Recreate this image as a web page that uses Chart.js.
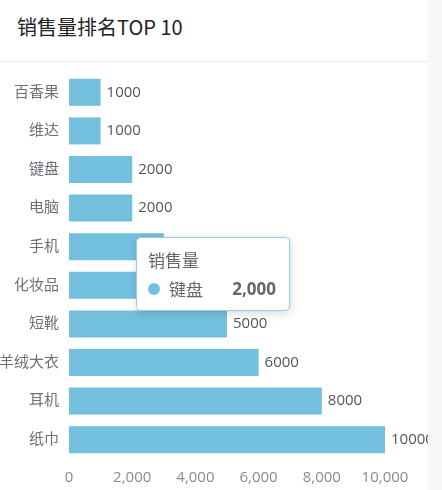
<!DOCTYPE html>
<html>
<head>
<meta charset="utf-8">
<script src="https://cdn.jsdelivr.net/npm/chart.js@4.4.1/dist/chart.umd.min.js"></script>
<style>
  body { margin: 0; background: #f6f7f9; font-family: "Open Sans", "Noto Sans CJK SC", sans-serif; }
  .card { position: absolute; left: 0; top: 0; width: 428px; height: 490px; background: #fff; overflow: hidden; }
  .card h3 { margin: 0; height: 61px; line-height: 54px; padding-left: 17px; font-size: 20px; font-weight: normal; color: #222;
             border-bottom: 1px solid #eeeeee; font-family: "Noto Sans CJK SC", sans-serif; }
  .box { position: absolute; left: 0; top: 62px; width: 428px; height: 428px; }
  #tip { position: absolute; pointer-events: none; background: #fff; border: 1px solid #94cde4; border-radius: 5px; box-sizing: border-box;
         box-shadow: 1px 2px 10px rgba(0,0,0,0.16); padding: 10px 13px 10px 11px; width: 154px; height: 74px; color: #666;
         font-size: 17px; display: none; }
  #tip .t { line-height: 24px; font-family: "Noto Sans CJK SC", sans-serif; }
  #tip .r { line-height: 26px; margin-top: 4px; display: flex; align-items: center; }
  #tip .dot { width: 12px; height: 12px; border-radius: 6px; margin-right: 9px; }
  #tip .n { font-family: "Noto Sans CJK SC", sans-serif; }
  #tip .v { margin-left: auto; font-weight: bold; font-family: "Open Sans", sans-serif; }
</style>
</head>
<body>
<div class="card">
  <h3>销售量排名TOP 10</h3>
  <div class="box">
    <canvas id="myChart"></canvas>
    <div id="tip"></div>
  </div>
</div>
<script>
// 数据
var categories = ['百香果', '维达', '键盘', '电脑', '手机', '化妆品', '短靴', '羊绒大衣', '耳机', '纸巾'];
var salesValues = [1000, 1000, 2000, 2000, 3000, 4000, 5000, 6000, 8000, 10000];
var xTicks = [0, 2000, 4000, 6000, 8000, 10000];
var seriesName = '销售量';
var barColor = '#73c0de';
var fontFamily = '"Open Sans", "Noto Sans CJK SC", sans-serif';

// 柱子末端的数值
var valueLabels = {
  id: 'valueLabels',
  afterDatasetsDraw: function (chart) {
    var ctx = chart.ctx;
    ctx.save();
    ctx.font = '15px ' + fontFamily;
    ctx.fillStyle = '#555';
    ctx.textBaseline = 'middle';
    chart.getDatasetMeta(0).data.forEach(function (bar, i) {
      ctx.fillText(String(salesValues[i]), bar.x + 6, bar.y);
    });
    ctx.restore();
  }
};

function externalTip(context) {
  var tip = document.getElementById('tip');
  var model = context.tooltip;
  if (model.opacity === 0) { tip.style.display = 'none'; return; }
  var p = model.dataPoints[0];
  tip.innerHTML = '<div class="t">' + seriesName + '</div>' +
    '<div class="r"><span class="dot" style="background:' + barColor + '"></span><span class="n">' + p.label +
    '</span><span class="v">' + p.raw.toLocaleString('en-US') + '</span></div>';
  tip.style.display = 'block';
  tip.style.left = (model.caretX + 20) + 'px';
  tip.style.top = (model.caretY + 20) + 'px';
}

Chart.Tooltip.positioners.mouse = function (elements, eventPosition) {
  return { x: eventPosition.x, y: eventPosition.y };
};

var ctx = document.getElementById('myChart').getContext('2d');
var myChart = new Chart(ctx, {
  type: 'bar',
  data: {
    labels: categories,
    datasets: [{
      label: seriesName,
      data: salesValues,
      backgroundColor: barColor,
      barPercentage: 0.7,
      categoryPercentage: 1
    }]
  },
  options: {
    indexAxis: 'y',
    responsive: true,
    maintainAspectRatio: false,
    animation: false,
    layout: { padding: { left: 0, right: 43, top: 11, bottom: 0 } },
    plugins: {
      legend: { display: false },
      tooltip: { enabled: false, external: externalTip, position: 'mouse' }
    },
    scales: {
      x: {
        min: 0,
        max: 10000,
        afterBuildTicks: function (axis) {
          axis.ticks = xTicks.map(function (v) { return { value: v }; });
        },
        afterFit: function (axis) { axis.height = 31; },
        grid: { display: false, drawTicks: false },
        border: { display: false },
        ticks: {
          color: '#8a8a8a',
          padding: 10,
          maxRotation: 0,
          font: { size: 15, family: fontFamily },
          callback: function (v) { return v.toLocaleString('en-US'); }
        }
      },
      y: {
        afterFit: function (axis) {
          axis.width = 69;
          axis.paddingTop = 0;
          axis.paddingBottom = 0;
        },
        grid: { display: false, drawTicks: false },
        border: { display: false },
        ticks: {
          color: '#6e7079',
          padding: 10,
          font: { size: 15, family: fontFamily }
        }
      }
    }
  },
  plugins: [valueLabels]
});

// 显示“键盘”的提示框
myChart.tooltip.setActiveElements([{ datasetIndex: 0, index: 2 }], { x: 116, y: 155 });
myChart.update();
</script>
</body>
</html>
